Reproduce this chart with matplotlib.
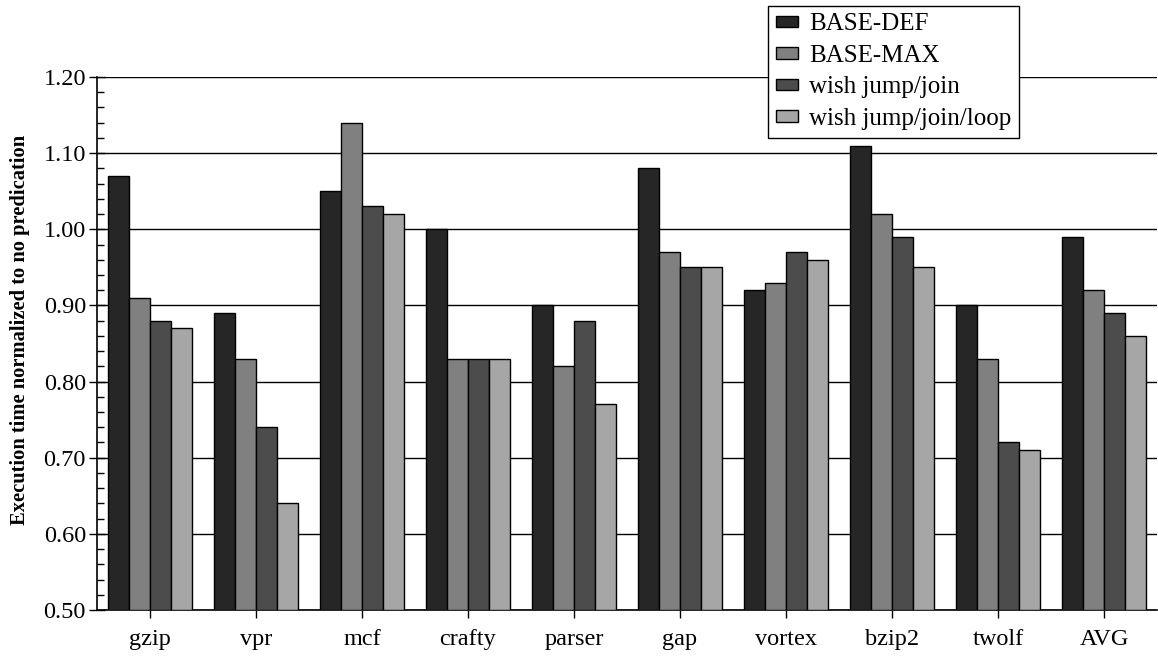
import numpy as np
import matplotlib
matplotlib.use("Agg")
import matplotlib.pyplot as plt
from matplotlib.ticker import MultipleLocator

plt.rcParams['font.family'] = ['Liberation Serif', 'DejaVu Serif']

benchmarks = ["gzip", "vpr", "mcf", "crafty", "parser", "gap", "vortex", "bzip2", "twolf", "AVG"]
base_def = [1.07, 0.89, 1.05, 1.00, 0.90, 1.08, 0.92, 1.11, 0.90, 0.99]
base_max = [0.91, 0.83, 1.14, 0.83, 0.82, 0.97, 0.93, 1.02, 0.83, 0.92]
wish_jj = [0.88, 0.74, 1.03, 0.83, 0.88, 0.95, 0.97, 0.99, 0.72, 0.89]
wish_jjl = [0.87, 0.64, 1.02, 0.83, 0.77, 0.95, 0.96, 0.95, 0.71, 0.86]

series = [
    ("BASE-DEF", base_def, "#262626"),
    ("BASE-MAX", base_max, "#808080"),
    ("wish jump/join", wish_jj, "#4c4c4c"),
    ("wish jump/join/loop", wish_jjl, "#a6a6a6"),
]

W, H = 1158, 658
fig = plt.figure(figsize=(W / 100, H / 100), dpi=100)
ax = fig.add_axes([97 / W, 48 / H, 1060 / W, 533 / H])

x = np.arange(len(benchmarks))
bw = 0.2
for i, (name, vals, col) in enumerate(series):
    ax.bar(x + (i - 1.5) * bw, np.array(vals) - 0.5, bw, bottom=0.5, color=col,
           edgecolor="black", linewidth=1.0, label=name, zorder=3)

ax.set_xlim(-0.5, len(benchmarks) - 0.5)
ax.set_ylim(0.5, 1.2)
ax.yaxis.set_major_locator(MultipleLocator(0.1))
ax.yaxis.set_minor_locator(MultipleLocator(0.02))
ax.yaxis.set_major_formatter(matplotlib.ticker.FormatStrFormatter("%.2f"))
ax.grid(axis="y", which="major", color="black", linewidth=1.0, zorder=0)
ax.set_axisbelow(True)

ax.set_xticks(x)
ax.set_xticklabels(benchmarks)
ax.tick_params(axis="x", direction="out", length=6, width=1, labelsize=17.5, pad=8)
ax.tick_params(axis="y", which="major", direction="inout", length=12, width=1,
               labelsize=17.5, pad=2)
ax.tick_params(axis="y", which="minor", direction="in", length=5, width=1)

for s in ["top", "right"]:
    ax.spines[s].set_visible(False)
for s in ["left", "bottom"]:
    ax.spines[s].set_linewidth(1.2)

ax.set_ylabel("Execution time normalized to no predication", fontsize=14.8,
              fontweight="bold")
ax.yaxis.set_label_coords(-(97 - 30) / 1060, 0.525)

leg = fig.legend(loc="upper left", bbox_to_anchor=(768 / W, 1 - 6 / H), fontsize=18,
                 frameon=True, fancybox=False, edgecolor="black", framealpha=1,
                 handlelength=0.9, handleheight=0.35, handletextpad=0.45,
                 labelspacing=0.38, borderpad=0.3, borderaxespad=0)
leg.get_frame().set_linewidth(1.0)

fig.savefig("out.png", dpi=100)
